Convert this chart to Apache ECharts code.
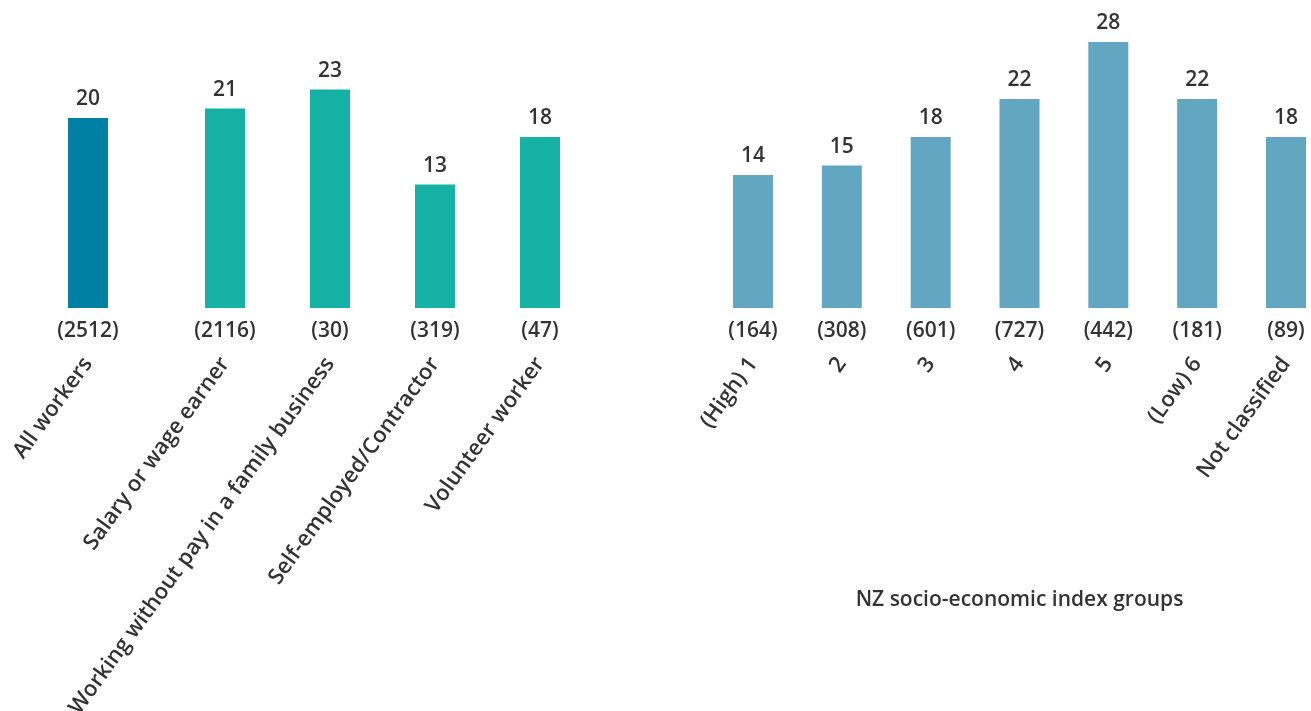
<!DOCTYPE html>
<html>
<head>
<meta charset="utf-8">
<script src="https://cdn.jsdelivr.net/npm/echarts@6/dist/echarts.min.js"></script>
<style>
  html, body { margin: 0; padding: 0; background: #ffffff; }
  #chart { width: 1311px; height: 711px; }
</style>
</head>
<body>
<div id="chart"></div>
<script>
// Overall figure for all workers
const totalCategories = ['All workers'];
const totalValues = [20];
const totalCounts = ['(2512)'];

// Work type groups
const workCategories = ['Salary or wage earner', 'Working without pay in a family business', 'Self-employed/Contractor', 'Volunteer worker'];
const workValues = [21, 23, 13, 18];
const workCounts = ['(2116)', '(30)', '(319)', '(47)'];

// NZ socio-economic index groups
const nzseiCategories = ['(High) 1', '2', '3', '4', '5', '(Low) 6', 'Not classified'];
const nzseiValues = [14, 15, 18, 22, 28, 22, 18];
const nzseiCounts = ['(164)', '(308)', '(601)', '(727)', '(442)', '(181)', '(89)'];

const FONT = '"Open Sans", "Noto Sans", sans-serif';
const TEXT = '#333333';
const FS = 21;
const GRID_TOP = 23;
const GRID_H = 285;

const grids = [
  { left: 48, top: GRID_TOP, width: 80, height: GRID_H, outerBoundsMode: 'none' },
  { left: 172.5, top: GRID_TOP, width: 420, height: GRID_H, outerBoundsMode: 'none' },
  { left: 708.6, top: GRID_TOP, width: 621.8, height: GRID_H, outerBoundsMode: 'none' }
];

function countAxis(gridIndex, counts) {
  return {
    type: 'category', gridIndex: gridIndex, data: counts, position: 'bottom',
    axisLine: { show: false }, axisTick: { show: false }, splitLine: { show: false },
    axisLabel: { interval: 0, margin: 13, color: TEXT, fontFamily: FONT, fontWeight: 600, fontSize: FS }
  };
}
function nameAxis(gridIndex, cats, extra) {
  return Object.assign({
    type: 'category', gridIndex: gridIndex, data: cats, position: 'bottom',
    axisLine: { show: false }, axisTick: { show: false }, splitLine: { show: false },
    axisLabel: { interval: 0, rotate: 54, margin: 52, color: TEXT, fontFamily: FONT, fontWeight: 600, fontSize: 22 }
  }, extra || {});
}
function valueAxis(gridIndex) {
  return { type: 'value', gridIndex: gridIndex, min: 0, max: 30, show: false };
}
function barSeries(idx, data, color) {
  return {
    type: 'bar', xAxisIndex: idx * 2, yAxisIndex: idx, data: data, barWidth: 40,
    itemStyle: { color: color },
    label: { show: true, position: 'top', distance: 8, color: TEXT, fontFamily: FONT, fontWeight: 600, fontSize: FS }
  };
}

const chart = echarts.init(document.getElementById('chart'), null, { renderer: 'canvas' });
chart.setOption({
  backgroundColor: '#ffffff',
  animation: false,
  grid: grids,
  xAxis: [
    countAxis(0, totalCounts), nameAxis(0, totalCategories),
    countAxis(1, workCounts), nameAxis(1, workCategories),
    countAxis(2, nzseiCounts), nameAxis(2, nzseiCategories, {
      name: 'NZ socio-economic index groups', nameLocation: 'middle', nameGap: 282,
      nameTextStyle: { color: TEXT, fontFamily: FONT, fontWeight: 600, fontSize: FS }
    })
  ],
  yAxis: [valueAxis(0), valueAxis(1), valueAxis(2)],
  series: [
    barSeries(0, totalValues, '#0080a3'),
    barSeries(1, workValues, '#14b1a4'),
    barSeries(2, nzseiValues, '#63a6c1')
  ]
});
</script>
</body>
</html>
